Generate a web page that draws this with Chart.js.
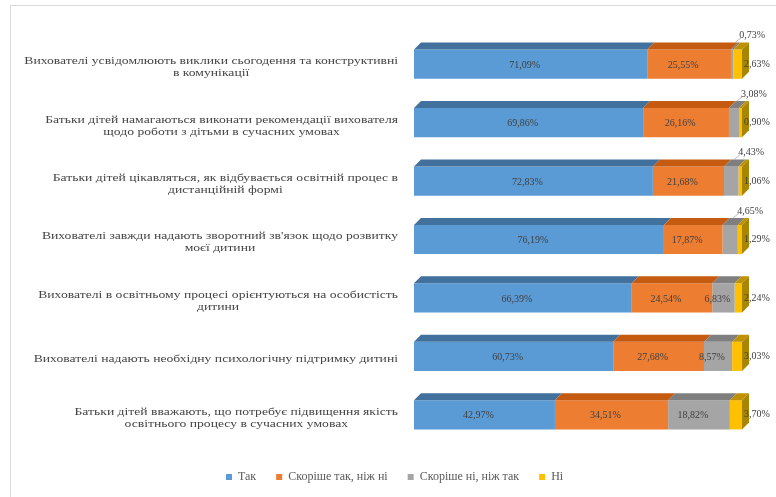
<!DOCTYPE html>
<html lang="uk">
<head>
    <meta charset="UTF-8">
    <title>Оцінка батьками освітнього процесу</title>
    <style>
        body { margin: 0; background: #fff; }
        #frame {
            position: absolute; left: 10px; top: 5px;
            width: 780px; height: 500px;
            border: 1px solid #d9d9d9;
        }
        #myChart { display: block; }
    </style>
    <script src="https://cdn.jsdelivr.net/npm/chart.js"></script>
</head>
<body>
    <div id="frame"><canvas id="myChart" width="765" height="491"></canvas></div>
    <script>
        const categories = [
            ['Вихователі усвідомлюють виклики сьогодення та конструктивні', 'в комунікації'],
            ['Батьки дітей намагаються виконати рекомендації вихователя', 'щодо роботи з дітьми в сучасних умовах'],
            ['Батьки дітей цікавляться, як відбувається освітній процес в', 'дистанційній формі'],
            ['Вихователі завжди надають зворотний зв\'язок щодо розвитку', 'моєї дитини'],
            ['Вихователі в освітньому процесі орієнтуються на особистість', 'дитини'],
            ['Вихователі надають необхідну психологічну підтримку дитині'],
            ['Батьки дітей вважають, що потребує підвищення якість', 'освітнього процесу в сучасних умовах']
        ];
        const seriesNames = ['Так', 'Скоріше так, ніж ні', 'Скоріше ні, ніж так', 'Ні'];
        const tak = [71.09, 69.86, 72.83, 76.19, 66.39, 60.73, 42.97];
        const ratherYes = [25.55, 26.16, 21.68, 17.87, 24.54, 27.68, 34.51];
        const ratherNo = [0.73, 3.08, 4.43, 4.65, 6.83, 8.57, 18.82];
        const no = [2.63, 0.90, 1.06, 1.29, 2.24, 3.03, 3.70];

        const colors = ['#5b9bd5', '#ed7d31', '#a5a5a5', '#ffc000'];
        const topColors = ['#41719c', '#c55a11', '#7f7f7f', '#bf9000'];
        const serif = "'Liberation Serif', 'Times New Roman', serif";
        const depth = 7;

        function fmt(v) {
            return v.toFixed(2).replace('.', ',') + '%';
        }

        // 3D-ish top faces and right end face
        const faces = {
            id: 'faces',
            afterDatasetsDraw(chart) {
                const ctx = chart.ctx;
                const n = chart.data.datasets.length;
                ctx.save();
                chart.data.datasets.forEach((ds, i) => {
                    chart.getDatasetMeta(i).data.forEach(bar => {
                        const x0 = Math.min(bar.base, bar.x), x1 = Math.max(bar.base, bar.x);
                        const top = bar.y - bar.height / 2, bottom = bar.y + bar.height / 2;
                        ctx.fillStyle = topColors[i];
                        ctx.beginPath();
                        ctx.moveTo(x0, top);
                        ctx.lineTo(x0 + depth, top - depth);
                        ctx.lineTo(x1 + depth, top - depth);
                        ctx.lineTo(x1, top);
                        ctx.closePath();
                        ctx.fill();
                        if (i === n - 1) {
                            ctx.fillStyle = '#a98600';
                            ctx.beginPath();
                            ctx.moveTo(x1, top);
                            ctx.lineTo(x1 + depth, top - depth);
                            ctx.lineTo(x1 + depth, bottom - depth);
                            ctx.lineTo(x1, bottom);
                            ctx.closePath();
                            ctx.fill();
                        }
                    });
                });
                ctx.restore();
            }
        };

        // category labels: each block right-aligned, lines centred inside it
        // (the source text is a wide, short serif, so it is stretched sideways)
        const catLabels = {
            id: 'catLabels',
            afterDraw(chart) {
                const ctx = chart.ctx;
                const yScale = chart.scales.y;
                const right = chart.chartArea.left - 16;
                const lh = 12;
                const sx = 1.24;
                ctx.save();
                ctx.font = '11px ' + serif;
                ctx.fillStyle = '#454545';
                ctx.textAlign = 'center';
                ctx.textBaseline = 'middle';
                ctx.scale(sx, 1);
                categories.forEach((lines, j) => {
                    const w = Math.max(...lines.map(l => ctx.measureText(l).width)) * sx;
                    const cx = right - w / 2;
                    const cy = yScale.getPixelForValue(j) + 3;
                    lines.forEach((l, k) => {
                        ctx.fillText(l, cx / sx, cy + (k - (lines.length - 1) / 2) * lh);
                    });
                });
                ctx.restore();
            }
        };

        const valueLabels = {
            id: 'valueLabels',
            afterDraw(chart) {
                const ctx = chart.ctx;
                ctx.save();
                ctx.font = '10px ' + serif;
                ctx.fillStyle = '#404040';
                ctx.textBaseline = 'middle';
                chart.data.datasets.forEach((ds, i) => {
                    chart.getDatasetMeta(i).data.forEach((bar, j) => {
                        const v = ds.data[j];
                        const x0 = Math.min(bar.base, bar.x), x1 = Math.max(bar.base, bar.x);
                        const top = bar.y - bar.height / 2;
                        if (i < 2 || (i === 2 && v >= 6)) {
                            ctx.textAlign = 'center';
                            ctx.fillText(fmt(v), (x0 + x1) / 2 - 6, bar.y + 1);
                        } else if (i === 2) {
                            const mx = (x0 + x1) / 2;
                            const lx = mx + 20, ly = top - 14;
                            ctx.strokeStyle = '#a5a5a5';
                            ctx.lineWidth = 0.8;
                            ctx.beginPath();
                            ctx.moveTo(mx + 3, top - depth);
                            ctx.lineTo(lx - 11, ly + 2);
                            ctx.stroke();
                            ctx.textAlign = 'center';
                            ctx.fillText(fmt(v), lx, ly);
                        } else {
                            ctx.textAlign = 'left';
                            ctx.fillText(fmt(v), x1 + 2, bar.y);
                        }
                    });
                });
                ctx.restore();
            }
        };

        const ctx = document.getElementById('myChart').getContext('2d');
        const myChart = new Chart(ctx, {
            type: 'bar',
            data: {
                labels: categories,
                datasets: [
                    { label: seriesNames[0], data: tak, backgroundColor: colors[0] },
                    { label: seriesNames[1], data: ratherYes, backgroundColor: colors[1] },
                    { label: seriesNames[2], data: ratherNo, backgroundColor: colors[2] },
                    { label: seriesNames[3], data: no, backgroundColor: colors[3] }
                ]
            },
            options: {
                indexAxis: 'y',
                responsive: false,
                animation: false,
                layout: { padding: { left: 195, right: 34, top: 29, bottom: 4 } },
                datasets: { bar: { barPercentage: 0.5, categoryPercentage: 1 } },
                scales: {
                    x: {
                        stacked: true, min: 0, max: 100,
                        grid: { display: false },
                        border: { display: false },
                        ticks: { display: false },
                        afterFit: function(scale) { scale.height = 7; }
                    },
                    y: {
                        stacked: true,
                        grid: { display: false },
                        border: { display: false },
                        ticks: { display: false },
                        afterFit: function(scale) { scale.width = 208; }
                    }
                },
                plugins: {
                    legend: {
                        position: 'bottom',
                        align: 'start',
                        labels: {
                            boxWidth: 6,
                            boxHeight: 6,
                            padding: 20,
                            color: '#595959',
                            font: { family: serif, size: 12 }
                        }
                    },
                    tooltip: { enabled: false }
                }
            },
            plugins: [faces, catLabels, valueLabels]
        });
    </script>
</body>
</html>
